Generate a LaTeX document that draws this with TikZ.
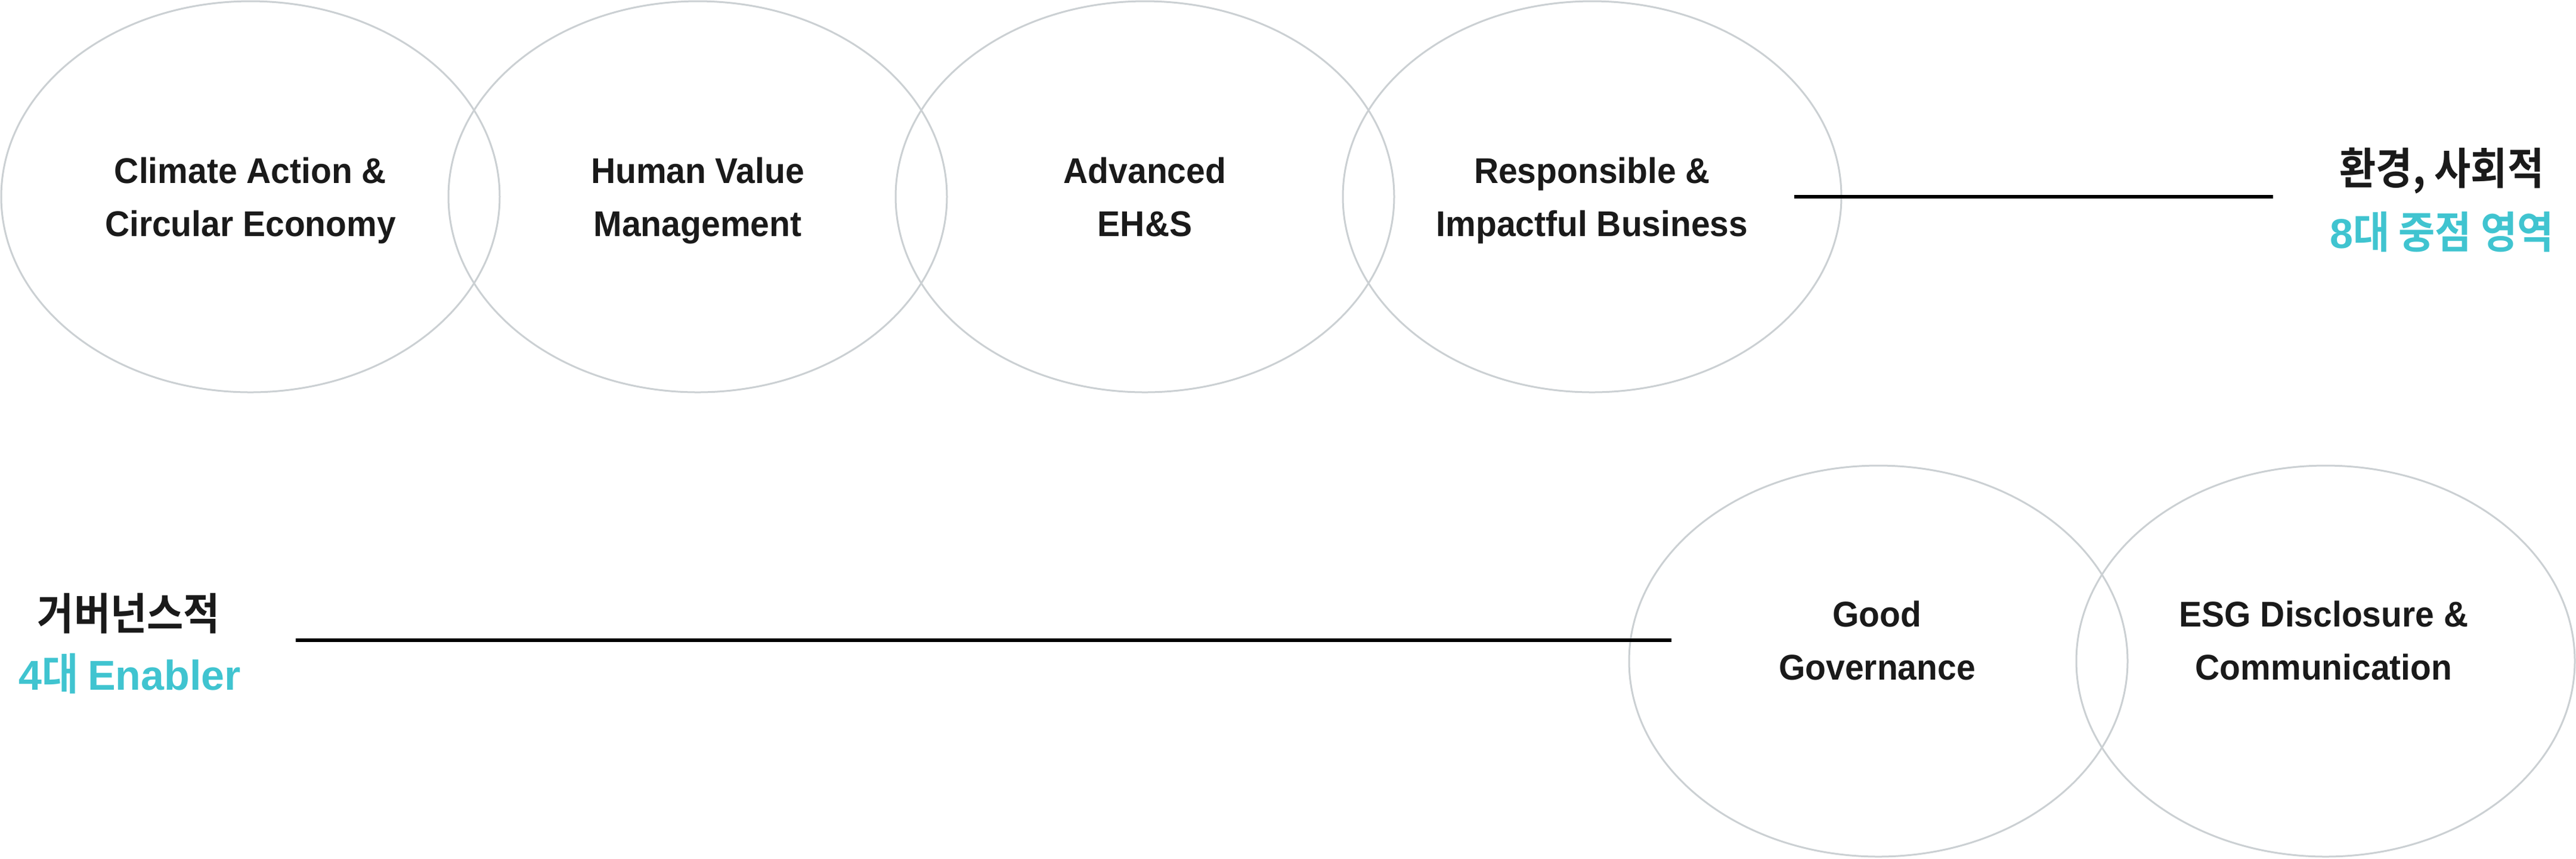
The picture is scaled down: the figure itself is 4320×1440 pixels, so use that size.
\documentclass[tikz,border=0pt]{standalone}
\usepackage{fontspec}
\setmainfont{Liberation Sans}[FakeStretch=0.95]
\newfontfamily\kr{Noto Sans CJK KR Bold}[FakeStretch=0.91]
\newfontfamily\latn{Liberation Sans}
\usetikzlibrary{shapes.geometric}
\definecolor{ringgray}{HTML}{CBD0D3}
\definecolor{accentteal}{HTML}{40C4D0}
\definecolor{inkk}{HTML}{1A1A1A}
\newcommand\hstrut{\rule{0pt}{1.016em}}
\newcommand\dstrut{\rule[-0.3em]{0pt}{0.3em}}
\newcommand\latd[1]{{\latn\bfseries\fontsize{17.5}{20}\selectfont #1}}
\tikzset{
  ring/.style={ellipse, draw=ringgray, line width=0.75pt, inner sep=0pt,
    minimum width=209pt, minimum height=164pt},
  lbl/.style={align=center, inner sep=0pt, text=inkk,
    font=\fontsize{15}{22.25}\selectfont\bfseries},
  krblack/.style={inner sep=0pt, text=inkk, font=\kr\fontsize{18.3}{20}\selectfont},
  krteal/.style={inner sep=0pt, text=accentteal, font=\kr\fontsize{18.3}{20}\selectfont},
  rule/.style={line width=1.5pt, black}
}
\begin{document}
\begin{tikzpicture}[x=0.25pt,y=-0.25pt]
\useasboundingbox (0,0) rectangle (4320,1440);
% top row
\node[ring] (r1) at (420,330) {};
\node[ring] (r2) at (1170,330) {};
\node[ring] (r3) at (1920,330) {};
\node[ring] (r4) at (2670,330) {};
\node[lbl] (l1) at (r1.center) {\hstrut Climate Action \&\\Circular Economy\dstrut};
\node[lbl] (l2) at (r2.center) {\hstrut Human Value\\Management\dstrut};
\node[lbl] (l3) at (r3.center) {\hstrut Advanced\\EH\&S\dstrut};
\node[lbl] (l4) at (r4.center) {\hstrut Responsible \&\\Impactful Business\dstrut};
% bottom row
\node[ring] (r5) at (3150,1109) {};
\node[ring] (r6) at (3900,1109) {};
\node[lbl] (l5) at (3148,1074) {\hstrut Good\\Governance\dstrut};
\node[lbl] (l6) at (3897,1074) {\hstrut ESG Disclosure \&\\Communication\dstrut};
% side labels
\node[krblack] (k1) at (4095,286) {환경, 사회적};
\node[krteal] (k2) at (4095,389) {\latd{8}대 중점 영역};
\node[krblack] (k3) at (216,1029) {거버넌스적};
\node[krteal] (k4) at (218,1130) {\latd{4}대 \latd{Enabler}};
% connectors
\coordinate (a1) at (3009,330);
\coordinate (a2) at (3812,330);
\coordinate (b1) at (496,1074);
\coordinate (b2) at (2803,1074);
\draw[rule] (a1) -- (a2);
\draw[rule] (b1) -- (b2);
\end{tikzpicture}
\end{document}
